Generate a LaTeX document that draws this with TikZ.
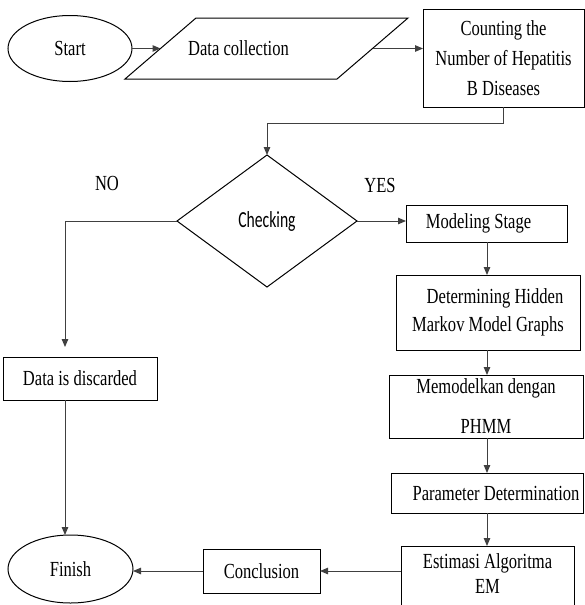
\documentclass[tikz,border=0pt]{standalone}
\usepackage{fontspec}
\setmainfont{Liberation Serif}[FakeStretch=0.77]
\newfontfamily\chkfont{Carlito}[FakeStretch=0.68]
\usetikzlibrary{shapes.geometric,arrows.meta}

\begin{document}
\begin{tikzpicture}[x=1pt,y=-1pt,
  every node/.style={font=\fontsize{21.5}{30}\selectfont, inner sep=0pt, outer sep=0pt},
  box/.style={draw=black, line width=1pt, rectangle, align=center},
  term/.style={draw=black, line width=1pt, ellipse},
  outline/.style={draw=black, line width=1pt},
  conn/.style={draw=black!75, line width=1pt, -{Triangle[length=8pt,width=6.5pt]}}]

\useasboundingbox (0,0) rectangle (585,605);

% nodes
\node[term, minimum width=124pt, minimum height=66pt] (start) at (70,48.5) {Start};

\node[minimum width=212pt, minimum height=61pt] (dc) at (266.5,48.5) {Data collection\hspace*{56pt}};
\draw[outline] ([xshift=-35.5pt]dc.south west) -- ([xshift=35.5pt]dc.north west) -- ([xshift=35.5pt]dc.north east) -- ([xshift=-35.5pt]dc.south east) -- cycle;

\node[box, minimum width=161pt, minimum height=98pt] (count) at (503.5,58) {Counting the\\Number of Hepatitis\\B Diseases};

\node[draw=black, line width=1pt, diamond, minimum width=180pt, minimum height=132pt, font={\chkfont\fontsize{23}{28}\selectfont}] (chk) at (267,221) {Checking};

\node (yes) at (380,185) {YES};
\node (no) at (107,183) {NO};

\node[box, minimum width=161pt, minimum height=37pt] (model) at (486.5,223.5) {Modeling Stage\hspace*{16pt}};
\node[box, minimum width=184pt, minimum height=75pt, font=\fontsize{21.5}{28}\selectfont] (determ) at (488,312.5) {\hspace*{14pt}Determining Hidden\\Markov Model Graphs};
\node[box, minimum width=194pt, minimum height=63pt, font=\fontsize{21.5}{40}\selectfont] (memo) at (486,406.5) {Memodelkan dengan\\PHMM};
\node[box, minimum width=192pt, minimum height=40pt] (param) at (487,493) {\hspace*{18pt}Parameter Determination};

\node[minimum width=173pt, minimum height=55pt, align=center, font=\fontsize{21.5}{25}\selectfont] (estim) at (487.5,573.5) {Estimasi Algoritma\\EM};
\draw[outline] ([yshift=-20pt]estim.south west) -- (estim.north west) -- (estim.north east) -- ([yshift=-20pt]estim.south east);

\node[box, minimum width=117pt, minimum height=44pt] (concl) at (261.5,571) {Conclusion};
\node[term, minimum width=125pt, minimum height=68pt] (finish) at (70.5,569) {Finish};

\node[box, minimum width=154pt, minimum height=43pt] (discard) at (80,378.5) {Data is discarded};

\coordinate (lx) at (65,0);
\coordinate (vx) at (487,0);

% connectors
\draw[conn] (start.east) -- (dc.west);
\draw[conn] (dc.east) -- (dc.east -| count.west);
\draw[conn] (count.south) -- ++(0,16) -| (chk.north);
\draw[conn] (chk.east) -- (chk.east -| model.west);
\draw[conn, shorten >=10pt] (chk.west) -| (lx |- discard.north);
\draw[conn] (lx |- discard.south) -- (lx |- finish.north);
\draw[conn] (vx |- model.south) -- (vx |- determ.north);
\draw[conn] (vx |- determ.south) -- (vx |- memo.north);
\draw[conn] (vx |- memo.south) -- (vx |- param.north);
\draw[conn] (vx |- param.south) -- (vx |- estim.north);
\draw[conn] (estim.west |- concl.east) -- (concl.east);
\draw[conn] (concl.west) -- (concl.west -| finish.east);
\end{tikzpicture}
\end{document}
